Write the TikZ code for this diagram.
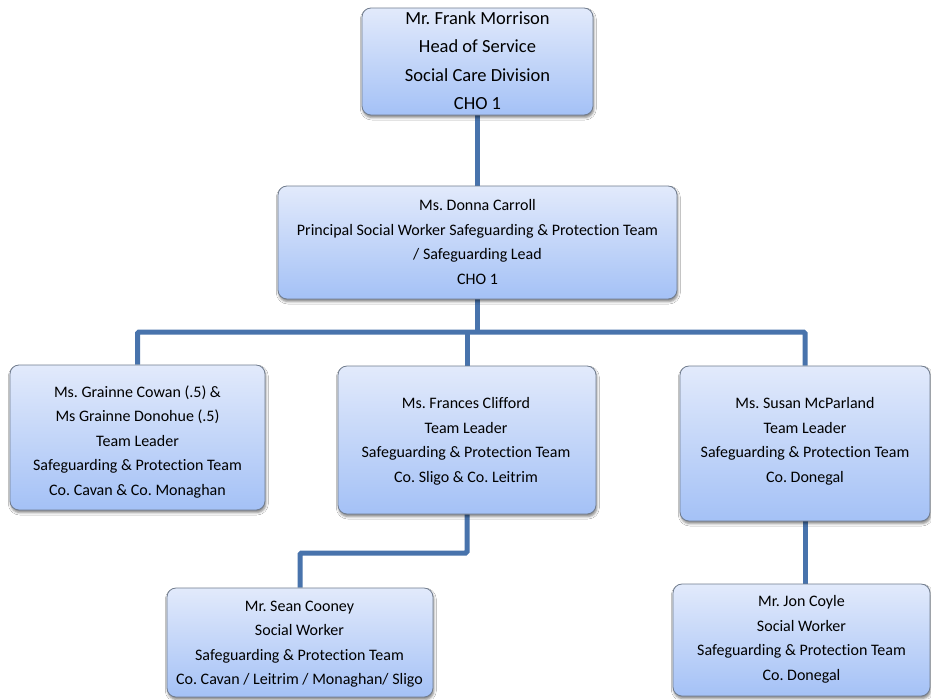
\documentclass[tikz,border=0pt]{standalone}
\usepackage{fontspec}
\setmainfont{Carlito}[Ligatures=NoCommon]
\usetikzlibrary{shadows.blur,backgrounds,calc}
\frenchspacing

\definecolor{boxtop}{RGB}{226,234,251}
\definecolor{boxbot}{RGB}{164,193,246}
\definecolor{boxline}{RGB}{112,124,142}
\definecolor{linkblue}{RGB}{72,115,172}

\tikzset{
  orgbox/.style={draw=boxline, line width=0.8pt, rounded corners=9pt,
    top color=boxtop, bottom color=boxbot, inner sep=0pt,
    blur shadow={shadow xshift=0.8pt, shadow yshift=-2.5pt,
      shadow blur radius=2.5pt, shadow opacity=50}},
  orgtext/.style={align=center, inner sep=0pt, text=black,
    font=\fontsize{16}{24.5}\selectfont},
  headtext/.style={orgtext, font=\fontsize{18.5}{28.5}\selectfont},
  link/.style={draw=linkblue, line width=5pt, rounded corners=1.5pt}
}

\begin{document}
\begin{tikzpicture}[x=1pt,y=-1pt]
\useasboundingbox (0,0) rectangle (931,699);

% boxes
\node[orgbox, minimum width=231pt, minimum height=107pt] (hos) at (477.5,61.5) {};
\node[orgbox, minimum width=399pt, minimum height=113pt] (dc)  at (477.5,242.5) {};
\node[orgbox, minimum width=255pt, minimum height=145pt] (cl)  at (137.5,437.5) {};
\node[orgbox, minimum width=258pt, minimum height=148pt] (cm)  at (467,440) {};
\node[orgbox, minimum width=250pt, minimum height=155pt] (cr)  at (805,443.5) {};
\node[orgbox, minimum width=266pt, minimum height=109pt] (sc)  at (300,642.5) {};
\node[orgbox, minimum width=257pt, minimum height=112pt] (jc)  at (801.5,640) {};

% texts
\node[headtext] (hos-t) at (477.5,60.5) {Mr. Frank Morrison\\Head of Service\\Social Care Division\\CHO 1};
\node[orgtext] (dc-t) at (477.5,242) {Ms. Donna Carroll\\Principal Social Worker Safeguarding \& Protection Team\\/ Safeguarding Lead\\CHO 1};
\node[orgtext] (cl-t) at (137.5,442) {Ms. Grainne Cowan (.5) \&\\Ms Grainne Donohue (.5)\\Team Leader\\Safeguarding \& Protection Team\\Co. Cavan \& Co. Monaghan};
\node[orgtext] (cm-t) at (466,441.5) {Ms. Frances Clifford\\Team Leader\\Safeguarding \& Protection Team\\Co. Sligo \& Co. Leitrim};
\node[orgtext] (cr-t) at (805,441.5) {Ms. Susan McParland\\Team Leader\\Safeguarding \& Protection Team\\Co. Donegal};
\node[orgtext] (sc-t) at (299.5,644) {Mr. Sean Cooney\\Social Worker\\Safeguarding \& Protection Team\\Co. Cavan / Leitrim / Monaghan/ Sligo};
\node[orgtext] (jc-t) at (801.5,639.5) {Mr. Jon Coyle\\Social Worker\\Safeguarding \& Protection Team\\Co. Donegal};

% bend rows of the connectors
\coordinate (bus) at (477.5,332);
\coordinate (drop) at (466,553);

\begin{pgfonlayer}{background}
  \fill[white] (0,0) rectangle (931,699);
  \draw[link] (hos.south) -- (dc.north);
  \draw[link] (dc.south) -- (dc.south |- bus);
  \draw[link] (cl.north) |- (bus) -| (cr.north);
  \draw[link] (cm.north |- bus) -- (cm.north);
  \draw[link] (cm.south) -- (cm.south |- drop) -| (sc.north);
  \draw[link] (cr.south) -- (cr.south |- jc.north);
\end{pgfonlayer}
\end{tikzpicture}
\end{document}
